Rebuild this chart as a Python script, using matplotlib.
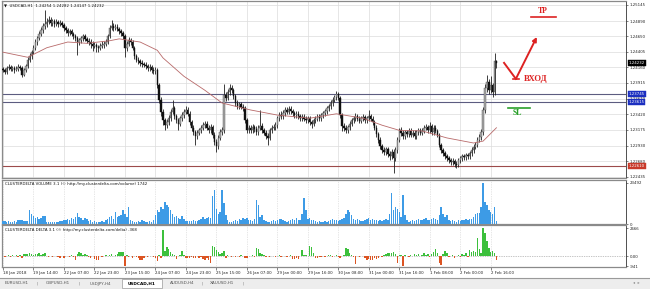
import numpy as np
import matplotlib
matplotlib.use("Agg")
import matplotlib.pyplot as plt
import matplotlib.transforms as mtransforms
from matplotlib.patches import Rectangle
from matplotlib.lines import Line2D

# --- DATA (USDCAD H1) ---
first_open = 1.2414
closes = [
    1.2412, 1.2409, 1.2415, 1.2417, 1.2414, 1.2415, 1.2412, 1.2414, 1.2417, 1.2415,
    1.2404, 1.2412, 1.2418, 1.2428, 1.2434, 1.2440, 1.2447, 1.2456, 1.2462, 1.2469,
    1.2475, 1.2481, 1.2484, 1.2488, 1.2491, 1.2486, 1.2489, 1.2484, 1.2488, 1.2484,
    1.2486, 1.2483, 1.2478, 1.2475, 1.2470, 1.2473, 1.2469, 1.2465, 1.2462, 1.2456,
    1.2459, 1.2462, 1.2465, 1.2461, 1.2458, 1.2456, 1.2453, 1.2450, 1.2451, 1.2448,
    1.2447, 1.2450, 1.2451, 1.2453, 1.2456, 1.2465, 1.2478, 1.2481, 1.2478, 1.2480,
    1.2477, 1.2473, 1.2470, 1.2465, 1.2447, 1.2453, 1.2459, 1.2456, 1.2447, 1.2434,
    1.2428, 1.2426, 1.2423, 1.2421, 1.2420, 1.2418, 1.2415, 1.2417, 1.2412, 1.2410,
    1.2412, 1.2388, 1.2365, 1.2346, 1.2333, 1.2325, 1.2330, 1.2336, 1.2346, 1.2352,
    1.2339, 1.2333, 1.2327, 1.2336, 1.2341, 1.2346, 1.2349, 1.2343, 1.2330, 1.2321,
    1.2314, 1.2308, 1.2313, 1.2317, 1.2321, 1.2325, 1.2327, 1.2321, 1.2317, 1.2322,
    1.2310, 1.2299, 1.2292, 1.2305, 1.2314, 1.2317, 1.2373, 1.2368, 1.2377, 1.2384,
    1.2380, 1.2371, 1.2360, 1.2355, 1.2358, 1.2354, 1.2352, 1.2333, 1.2317, 1.2321,
    1.2317, 1.2322, 1.2319, 1.2314, 1.2321, 1.2324, 1.2317, 1.2313, 1.2308, 1.2305,
    1.2317, 1.2321, 1.2322, 1.2325, 1.2336, 1.2341, 1.2339, 1.2344, 1.2349, 1.2346,
    1.2351, 1.2347, 1.2344, 1.2341, 1.2343, 1.2339, 1.2336, 1.2338, 1.2335, 1.2333,
    1.2336, 1.2330, 1.2327, 1.2333, 1.2335, 1.2338, 1.2336, 1.2341, 1.2344, 1.2347,
    1.2352, 1.2355, 1.2360, 1.2365, 1.2369, 1.2374, 1.2368, 1.2341, 1.2324, 1.2321,
    1.2317, 1.2322, 1.2327, 1.2333, 1.2336, 1.2339, 1.2335, 1.2332, 1.2336, 1.2338,
    1.2333, 1.2336, 1.2339, 1.2335, 1.2330, 1.2321, 1.2311, 1.2302, 1.2292, 1.2286,
    1.2283, 1.2287, 1.2280, 1.2276, 1.2283, 1.2273, 1.2286, 1.2302, 1.2317, 1.2313,
    1.2308, 1.2314, 1.2311, 1.2316, 1.2310, 1.2313, 1.2308, 1.2314, 1.2317, 1.2313,
    1.2316, 1.2321, 1.2322, 1.2317, 1.2324, 1.2314, 1.2321, 1.2316, 1.2310, 1.2294,
    1.2286, 1.2281, 1.2276, 1.2273, 1.2270, 1.2267, 1.2269, 1.2264, 1.2262, 1.2270,
    1.2273, 1.2276, 1.2275, 1.2278, 1.2276, 1.2281, 1.2286, 1.2291, 1.2294, 1.2302,
    1.2306, 1.2314, 1.2349, 1.2384, 1.2393, 1.2380, 1.2388, 1.2377, 1.24254, 1.24232,
]
highs = [
    1.2417, 1.2415, 1.2419, 1.2421, 1.2420, 1.2418, 1.2418, 1.2419, 1.2421, 1.2420,
    1.2418, 1.2415, 1.2422, 1.2432, 1.2438, 1.2444, 1.2451, 1.2460, 1.2466, 1.2474,
    1.2479, 1.2486, 1.2507, 1.2494, 1.2497, 1.2495, 1.2493, 1.2492, 1.2492, 1.2491,
    1.2490, 1.2489, 1.2486, 1.2481, 1.2478, 1.2477, 1.2476, 1.2472, 1.2468, 1.2465,
    1.2463, 1.2466, 1.2469, 1.2468, 1.2464, 1.2462, 1.2460, 1.2457, 1.2456, 1.2455,
    1.2452, 1.2455, 1.2457, 1.2458, 1.2461, 1.2469, 1.2483, 1.2491, 1.2486, 1.2485,
    1.2484, 1.2480, 1.2477, 1.2474, 1.2468, 1.2457, 1.2464, 1.2463, 1.2459, 1.2450,
    1.2437, 1.2432, 1.2430, 1.2427, 1.2425, 1.2424, 1.2422, 1.2421, 1.2420, 1.2416,
    1.2417, 1.2415, 1.2391, 1.2369, 1.2350, 1.2337, 1.2335, 1.2341, 1.2350, 1.2365,
    1.2356, 1.2343, 1.2337, 1.2340, 1.2346, 1.2351, 1.2355, 1.2353, 1.2347, 1.2334,
    1.2325, 1.2318, 1.2317, 1.2321, 1.2326, 1.2330, 1.2332, 1.2331, 1.2325, 1.2327,
    1.2326, 1.2314, 1.2303, 1.2309, 1.2319, 1.2322, 1.2390, 1.2378, 1.2382, 1.2390,
    1.2388, 1.2384, 1.2374, 1.2364, 1.2362, 1.2362, 1.2358, 1.2356, 1.2337, 1.2326,
    1.2325, 1.2327, 1.2326, 1.2323, 1.2325, 1.2349, 1.2328, 1.2321, 1.2317, 1.2312,
    1.2321, 1.2326, 1.2327, 1.2330, 1.2340, 1.2346, 1.2347, 1.2349, 1.2354, 1.2353,
    1.2356, 1.2355, 1.2351, 1.2348, 1.2347, 1.2347, 1.2343, 1.2342, 1.2342, 1.2339,
    1.2340, 1.2340, 1.2334, 1.2337, 1.2339, 1.2342, 1.2342, 1.2345, 1.2348, 1.2351,
    1.2356, 1.2359, 1.2364, 1.2369, 1.2373, 1.2379, 1.2377, 1.2371, 1.2345, 1.2328,
    1.2325, 1.2326, 1.2331, 1.2337, 1.2340, 1.2344, 1.2343, 1.2339, 1.2340, 1.2342,
    1.2341, 1.2340, 1.2349, 1.2343, 1.2339, 1.2334, 1.2325, 1.2315, 1.2306, 1.2296,
    1.2290, 1.2291, 1.2291, 1.2284, 1.2287, 1.2287, 1.2290, 1.2306, 1.2321, 1.2322,
    1.2317, 1.2318, 1.2318, 1.2320, 1.2320, 1.2317, 1.2317, 1.2318, 1.2321, 1.2321,
    1.2320, 1.2325, 1.2327, 1.2326, 1.2330, 1.2327, 1.2325, 1.2325, 1.2319, 1.2313,
    1.2297, 1.2289, 1.2284, 1.2280, 1.2277, 1.2274, 1.2273, 1.2272, 1.2268, 1.2274,
    1.2277, 1.2280, 1.2280, 1.2282, 1.2282, 1.2285, 1.2290, 1.2295, 1.2299, 1.2306,
    1.2311, 1.2319, 1.2354, 1.2390, 1.2404, 1.2398, 1.2402, 1.2392, 1.2439, 1.24282,
]
lows = [
    1.2409, 1.2405, 1.2406, 1.2412, 1.2410, 1.2411, 1.2408, 1.2410, 1.2411, 1.2412,
    1.2401, 1.2402, 1.2409, 1.2415, 1.2425, 1.2430, 1.2437, 1.2444, 1.2452, 1.2459,
    1.2465, 1.2471, 1.2477, 1.2480, 1.2484, 1.2482, 1.2482, 1.2480, 1.2481, 1.2480,
    1.2481, 1.2479, 1.2474, 1.2471, 1.2466, 1.2467, 1.2465, 1.2461, 1.2458, 1.2436,
    1.2452, 1.2455, 1.2458, 1.2457, 1.2454, 1.2451, 1.2447, 1.2442, 1.2446, 1.2441,
    1.2440, 1.2443, 1.2446, 1.2447, 1.2449, 1.2453, 1.2462, 1.2475, 1.2474, 1.2475,
    1.2473, 1.2469, 1.2466, 1.2461, 1.2432, 1.2442, 1.2450, 1.2452, 1.2443, 1.2430,
    1.2424, 1.2422, 1.2419, 1.2417, 1.2416, 1.2414, 1.2411, 1.2411, 1.2408, 1.2406,
    1.2406, 1.2384, 1.2360, 1.2340, 1.2326, 1.2317, 1.2320, 1.2326, 1.2332, 1.2342,
    1.2335, 1.2328, 1.2317, 1.2323, 1.2332, 1.2337, 1.2342, 1.2339, 1.2326, 1.2316,
    1.2309, 1.2294, 1.2303, 1.2309, 1.2313, 1.2317, 1.2321, 1.2317, 1.2312, 1.2313,
    1.2305, 1.2294, 1.2283, 1.2288, 1.2301, 1.2309, 1.2313, 1.2363, 1.2364, 1.2373,
    1.2376, 1.2367, 1.2356, 1.2351, 1.2351, 1.2350, 1.2348, 1.2329, 1.2312, 1.2313,
    1.2312, 1.2313, 1.2315, 1.2309, 1.2310, 1.2317, 1.2313, 1.2309, 1.2304, 1.2294,
    1.2301, 1.2313, 1.2317, 1.2318, 1.2321, 1.2332, 1.2335, 1.2335, 1.2340, 1.2342,
    1.2342, 1.2343, 1.2340, 1.2337, 1.2337, 1.2335, 1.2332, 1.2332, 1.2331, 1.2329,
    1.2329, 1.2326, 1.2321, 1.2323, 1.2329, 1.2331, 1.2332, 1.2332, 1.2337, 1.2340,
    1.2343, 1.2348, 1.2351, 1.2356, 1.2361, 1.2365, 1.2364, 1.2337, 1.2316, 1.2316,
    1.2313, 1.2313, 1.2318, 1.2323, 1.2329, 1.2332, 1.2331, 1.2328, 1.2328, 1.2332,
    1.2329, 1.2329, 1.2332, 1.2331, 1.2326, 1.2317, 1.2306, 1.2297, 1.2287, 1.2281,
    1.2278, 1.2278, 1.2275, 1.2271, 1.2272, 1.2250, 1.2269, 1.2282, 1.2298, 1.2308,
    1.2304, 1.2304, 1.2307, 1.2307, 1.2306, 1.2306, 1.2304, 1.2304, 1.2310, 1.2309,
    1.2309, 1.2312, 1.2317, 1.2313, 1.2313, 1.2310, 1.2310, 1.2312, 1.2306, 1.2290,
    1.2282, 1.2277, 1.2272, 1.2269, 1.2266, 1.2263, 1.2263, 1.2260, 1.2258, 1.2259,
    1.2266, 1.2269, 1.2271, 1.2271, 1.2272, 1.2272, 1.2277, 1.2282, 1.2287, 1.2290,
    1.2298, 1.2302, 1.2310, 1.2345, 1.2378, 1.2374, 1.2376, 1.2369, 1.2373, 1.24147,
]
# moving average, read at a few bars
ma_idx = [0, 13, 23, 34, 44, 56, 61, 72, 81, 84, 95, 106, 115, 130, 144, 161, 175,
          189, 199, 208, 220, 233, 247, 252, 259]
ma_val = [1.2440, 1.2432, 1.2447, 1.2456, 1.2454, 1.2458, 1.2461, 1.2456, 1.2443,
          1.2431, 1.2402, 1.2380, 1.2360, 1.2349, 1.2341, 1.2336, 1.2343, 1.2336,
          1.2325, 1.2317, 1.2316, 1.2305, 1.2297, 1.2300, 1.2321]
volume = [
    1500, 1800, 1300, 1600, 1200, 1100, 1700, 1400, 2200, 2000,
    2400, 1800, 1700, 1500, 7800, 5900, 4300, 3500, 3900, 2900,
    3500, 4300, 4700, 1300, 1100, 900, 1200, 1000, 1400, 1200,
    1800, 1600, 2400, 2000, 2900, 2400, 3500, 2700, 4100, 6300,
    4100, 3300, 2500, 3500, 2900, 1800, 2200, 1400, 1600, 1000,
    1200, 1100, 1500, 1300, 2000, 2900, 3900, 4500, 3100, 6800,
    3900, 4700, 4900, 7800, 5700, 3900, 9800, 2000, 1500, 1100,
    1000, 1500, 1300, 2000, 1700, 1300, 1100, 1600, 1400, 2200,
    4900, 7800, 6900, 9800, 8800, 12700, 10800, 9800, 7800, 5900,
    3900, 4700, 3500, 2900, 4300, 3100, 1800, 1600, 1900, 1500,
    2000, 1600, 1800, 2400, 3100, 3700, 2900, 3300, 3900, 3500,
    15700, 19600, 8800, 5900, 6900, 19600, 11800, 4900, 2000, 1400,
    1200, 1600, 2400, 1800, 2900, 2200, 3300, 2700, 3500, 2400,
    2000, 1800, 2900, 13700, 10800, 3900, 4900, 2500, 1600, 1400,
    1200, 1800, 2400, 1600, 2000, 3100, 2700, 2200, 1600, 1300,
    1800, 2400, 2900, 2200, 3300, 2500, 2000, 5900, 14700, 7800,
    2900, 3500, 2400, 2000, 1600, 1400, 1800, 1300, 1100, 1500,
    1200, 1800, 2200, 2700, 2400, 2000, 1600, 2200, 2900, 3500,
    5900, 7800, 6900, 4900, 2900, 2400, 3100, 2000, 1600, 1800,
    2200, 2700, 3300, 2400, 2900, 2000, 2500, 1800, 2200, 1600,
    2400, 2900, 2000, 5900, 17600, 7800, 9800, 8800, 6900, 3900,
    16600, 4900, 2000, 1400, 1800, 2500, 1600, 2200, 2900, 2400,
    2000, 2700, 3300, 2400, 2000, 2900, 3500, 2700, 2200, 4900,
    9800, 5900, 3900, 4900, 2400, 1800, 2200, 1600, 1400, 2000,
    1800, 2400, 2000, 2700, 2200, 2900, 2900, 3900, 5900, 6500,
    6000, 9600, 23492, 12500, 10600, 7700, 6700, 5800, 9600, 1742,
]
delta = [
    60, -40, 80, 120, -60, 90, 40, 150, -80, 100,
    -120, 180, 220, 260, 280, 200, 150, 260, 180, 320,
    120, 200, 300, 80, -60, 40, -100, 60, 30, -50,
    -180, 50, -120, 40, 80, -60, 100, -90, -340, 180,
    420, 300, 150, 220, 120, -80, -150, 60, -250, -380,
    -300, 80, -60, 40, 120, 60, 150, 200, 80, 150,
    250, 400, 380, 420, -941, 150, -80, 60, -120, 40,
    -60, -150, -300, -350, -120, 50, -80, 30, 60, -100,
    -200, -420, 120, -150, 2500, 500, 860, 700, 400, 200,
    100, -250, 80, 150, 550, 100, -120, -200, -150, -80,
    -180, -120, 60, -150, -100, -250, -300, -200, -350, -640,
    980, 860, 600, 450, 200, 350, 500, -200, 100, 60,
    -80, 40, -100, 80, -60, 120, 40, -150, -120, 60,
    80, 100, -60, 830, 700, 350, 200, 150, -80, 60,
    -60, 40, 80, -40, 60, 100, -50, 30, 80, -60,
    40, 120, -220, -280, -180, -250, 60, 580, 150, 100,
    80, 980, 860, 300, -200, -150, -100, -80, 40, -60,
    60, 100, 150, -80, 80, 120, -100, -200, 60, 150,
    830, 700, 300, 100, -60, -700, 80, -100, 60, 40,
    -150, -300, -250, -350, -300, -200, -280, -120, 80, -60,
    120, 200, 300, 350, 280, 400, 250, -600, 150, 100,
    -880, 150, 80, -60, 100, 60, 200, 120, 250, 80,
    150, 300, 100, 200, -100, 200, 380, 660, 300, -600,
    -770, 250, 550, 350, -100, 80, 150, -150, 60, 120,
    -80, 200, 100, 300, -60, 600, 400, 500, 400, 1700,
    650, 300, 2666, 2200, 1400, 800, 450, 500, 300, -368,
]
price_ticks = [1.25145, 1.24890, 1.24650, 1.24405, 1.24160, 1.23915, 1.23670,
               1.23420, 1.23175, 1.22930, 1.22680, 1.22435]
time_labels = ["18 Jan 2018", "19 Jan 14:00", "22 Jan 07:00", "22 Jan 23:00",
               "23 Jan 15:00", "24 Jan 07:00", "24 Jan 23:00", "25 Jan 15:00",
               "26 Jan 07:00", "29 Jan 00:00", "29 Jan 16:00", "30 Jan 08:00",
               "31 Jan 00:00", "31 Jan 16:00", "1 Feb 08:00", "2 Feb 00:00",
               "2 Feb 16:00"]
time_tick_idx = list(range(0, 257, 16))
levels_blue = [1.23745, 1.23615]
level_red = 1.22610
last_price = 1.24232
header_ohlc = "1.24254 1.24282 1.24147 1.24232"
tp_price = 1.2495
entry_price = 1.2398
sl_price = 1.2352
tabs = ["EURUSD,H1", "GBPUSD,H1", "USDJPY,H4", "USDCAD,H1", "AUDUSD,H4", "XAUUSD,H1"]

# --- LAYOUT (pixel boxes of the 650x289 screenshot) ---
W, H = 650, 289
X_VIEW = (-0.5, 327)   # chart shifted: empty space right of last bar


def px_rect(x0, y0, x1, y1):
    return [x0 / W, 1 - y1 / H, (x1 - x0) / W, (y1 - y0) / H]


SMALL = 2.8
fig = plt.figure(figsize=(W / 100, H / 100), dpi=100)
fig.patch.set_facecolor("white")

ax = fig.add_axes(px_rect(2, 1, 626, 178))
axv = fig.add_axes(px_rect(2, 180, 626, 224), sharex=ax)
axd = fig.add_axes(px_rect(2, 225, 626, 267), sharex=ax)

for a in (ax, axv, axd):
    a.set_xlim(*X_VIEW)
    a.set_xticks(time_tick_idx)
    a.yaxis.tick_right()
    for side, sp in a.spines.items():
        sp.set_color("#8a8a8a")
        sp.set_linewidth(0.9)
    a.spines["right"].set_color("#333333")
    a.spines["right"].set_linewidth(0.6)
    a.tick_params(axis="y", labelsize=SMALL, length=1.5, width=0.4, pad=1,
                  colors="#222222")
    a.tick_params(axis="x", length=0, labelbottom=False)
    a.set_axisbelow(True)

# --- price panel ---
idx = np.arange(len(closes))
c = np.array(closes)
o = np.array([first_open] + closes[:-1])   # each hour opens at prior close
up = c >= o

ax.grid(True, color="#dcdcdc", lw=0.5)
ax.vlines(idx, lows, highs, color="#1e1e1e", lw=0.6, zorder=3)
ax.bar(idx, c - o, bottom=o, width=0.75,
       color=np.where(up, "#a8a8a8", "#101010"),
       edgecolor=np.where(up, "#505050", "#101010"), linewidth=0.3, zorder=4)
ax.plot(ma_idx, ma_val, color="#b86a6a", lw=0.6, zorder=5)

for lv in levels_blue:
    ax.axhline(lv, color="#5c5c80", lw=0.8, zorder=2)
ax.axhline(level_red, color="#9c4a4a", lw=0.8, zorder=2)

ax.set_ylim(1.22419, 1.25206)
ax.set_yticks(price_ticks)
ax.set_yticklabels([f"{p:.5f}" for p in price_ticks])

trans = mtransforms.blended_transform_factory(ax.transAxes, ax.transData)
boxes = [(last_price, "#000000")] + [(lv, "#1c2fc0") for lv in levels_blue] + \
        [(level_red, "#c83a2a")]
for val, col in boxes:
    ax.text(1.004, val, f"{val:.5f}", transform=trans, fontsize=SMALL,
            color="white", va="center", ha="left", zorder=10,
            bbox=dict(boxstyle="square,pad=0.25", fc=col, ec=col, lw=0.3))

ax.text(0.004, 0.988, "\u25bc  USDCAD,H1  " + header_ohlc, transform=ax.transAxes,
        fontsize=SMALL, va="top", ha="left", color="#111111")

# trade idea drawn on the chart
red = "#dd2222"
green = "#2aa02a"
serif = dict(family="Liberation Serif", weight="bold")
ax.plot([277, 290], [tp_price, tp_price], color=red, lw=1.2)
ax.text(283.5, tp_price + 0.0003, "TP", color=red, fontsize=5.6, ha="center",
        va="bottom", **serif)
ax.plot([263, 269.2], [last_price, entry_price], color=red, lw=1.4)
ax.plot([267.5, 271], [entry_price, entry_price], color=red, lw=1.2)
ax.annotate("", xy=(280.2, 1.2464), xytext=(269.2, entry_price),
            arrowprops=dict(arrowstyle="-|>", color=red, lw=1.4,
                            mutation_scale=6, shrinkA=0, shrinkB=0))
ax.text(273.4, entry_price, "ВХОД", color=red, fontsize=6.2, ha="left",
        va="center", **serif)
ax.plot([265, 276.5], [sl_price, sl_price], color=green, lw=1.2)
ax.text(269.8, sl_price - 0.0002, "SL", color=green, fontsize=5.6,
        ha="center", va="top", **serif)

# --- volume panel ---
axv.grid(True, axis="x", color="#cfcfcf", lw=0.5, ls=(0, (1, 1.5)))
axv.bar(idx, volume, width=0.75, color="#3d9be6", zorder=3, antialiased=False)
axv.set_ylim(0, 25000)
axv.set_yticks([0, 23492])
axv.set_yticklabels(["0", "23492"])
axv.text(0.005, 0.95,
         "CLUSTERDELTA VOLUME 3.1 (\u00a9 http://my.clusterdelta.com/volume) "
         + str(volume[-1]), transform=axv.transAxes, fontsize=SMALL,
         va="top", ha="left", color="#111111")

# --- delta panel ---
d = np.array(delta)
axd.grid(True, axis="x", color="#cfcfcf", lw=0.5, ls=(0, (1, 1.5)))
axd.axhline(0, color="#8a8a8a", lw=0.5, ls=(0, (1, 1.5)), zorder=2)
axd.bar(idx, d, width=0.75, color=np.where(d >= 0, "#3cc03c", "#dc5422"),
        zorder=3, antialiased=False)
axd.set_ylim(-1000, 2950)
axd.set_yticks([2666, 0, -941])
axd.set_yticklabels(["2666", "0.00", "-941"])
axd.text(0.005, 0.93,
         "CLUSTERDELTA DELTA 3.1 (\u00a9 http://my.clusterdelta.com/delta) "
         + str(delta[-1]), transform=axd.transAxes, fontsize=SMALL,
         va="top", ha="left", color="#111111")
axd.tick_params(axis="x", length=2, width=0.4, labelbottom=True,
                labelsize=SMALL, pad=1.2, colors="#222222")
axd.set_xticklabels(time_labels, ha="left")

# --- window chrome: bottom frame and symbol tabs ---
fig.add_artist(Line2D([0, 1], [1 - 278 / H] * 2, transform=fig.transFigure,
                      color="#9a9a9a", lw=0.8))
fig.add_artist(Rectangle((0, 0), 1, 11 / H, transform=fig.transFigure,
                         fc="#ededed", ec="none", zorder=0))
tab_centers = [17, 58, 100, 142, 182, 222]
for name, xc in zip(tabs, tab_centers):
    if name == "USDCAD,H1":
        fig.add_artist(Rectangle((122 / W, 1 - 288 / H), 40 / W, 9 / H,
                                 transform=fig.transFigure, fc="white",
                                 ec="#9a9a9a", lw=0.5))
        fig.text(xc / W, 1 - 283.5 / H, name, fontsize=3.1, ha="center",
                 va="center", color="#000000", weight="bold")
    else:
        fig.text(xc / W, 1 - 283.5 / H, name, fontsize=3.0, ha="center",
                 va="center", color="#555555")
for xs in [37, 79, 202, 243]:
    fig.text(xs / W, 1 - 283.5 / H, "|", fontsize=3.2, ha="center",
             va="center", color="#888888")
fig.text(636 / W, 1 - 283.5 / H, "\u25c2  \u25b8", fontsize=3, ha="center",
         va="center", color="#888888")

fig.savefig("out.png", dpi=100, facecolor="white")
